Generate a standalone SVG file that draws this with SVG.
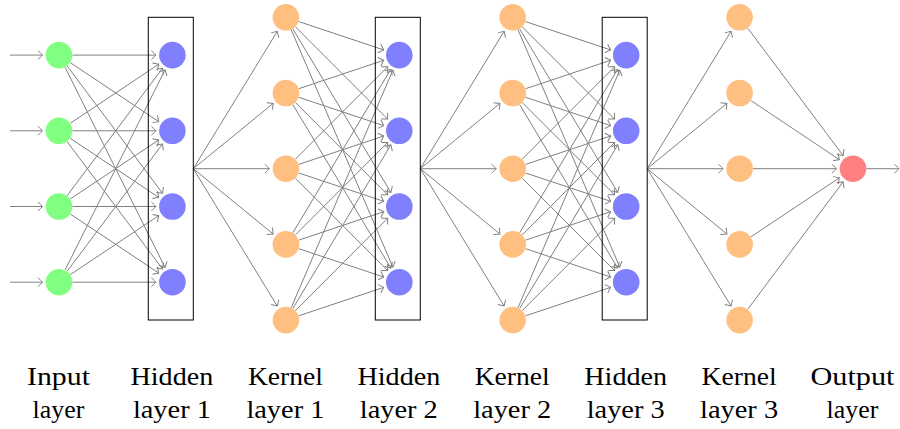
<svg xmlns="http://www.w3.org/2000/svg" width="900" height="429" viewBox="0 0 900 429">
<style>
.e{stroke:#808080;stroke-width:1;fill:none;marker-end:url(#ar)}
.in{fill:#80FF80}
.hd{fill:#8080FF}
.kn{fill:#FFBF80}
.out{fill:#FF8080}
.box{fill:none;stroke:#000;stroke-width:1}
</style>
<defs>
<marker id="ar" markerUnits="userSpaceOnUse" markerWidth="12" markerHeight="12" viewBox="-6 -6 12 12" refX="0" refY="0" orient="auto" overflow="visible">
<path d="M-4.5,-4.5 Q-1.2,-1.2 0,0 Q-1.2,1.2 -4.5,4.5" fill="none" stroke="#808080" stroke-width="1"/>
</marker>
</defs>
<g id="connectors">
<line class="e" x1="10" y1="55.1" x2="42.5" y2="55.1"/>
<line class="e" x1="10" y1="130.8" x2="42.5" y2="130.8"/>
<line class="e" x1="10" y1="206.5" x2="42.5" y2="206.5"/>
<line class="e" x1="10" y1="282.2" x2="42.5" y2="282.2"/>
<line class="e" x1="72.5" y1="55.1" x2="155.9" y2="55.1"/>
<line class="e" x1="70.23" y1="62.6" x2="158.68" y2="121.64"/>
<line class="e" x1="67.09" y1="65.91" x2="162.51" y2="193.29"/>
<line class="e" x1="65.03" y1="67.18" x2="165.03" y2="267.44"/>
<line class="e" x1="70.23" y1="123.3" x2="158.68" y2="64.26"/>
<line class="e" x1="72.5" y1="130.8" x2="155.9" y2="130.8"/>
<line class="e" x1="70.23" y1="138.3" x2="158.68" y2="197.34"/>
<line class="e" x1="67.09" y1="141.61" x2="162.51" y2="268.99"/>
<line class="e" x1="67.09" y1="195.69" x2="162.51" y2="68.31"/>
<line class="e" x1="70.23" y1="199" x2="158.68" y2="139.96"/>
<line class="e" x1="72.5" y1="206.5" x2="155.9" y2="206.5"/>
<line class="e" x1="70.23" y1="214" x2="158.68" y2="273.04"/>
<line class="e" x1="65.03" y1="270.12" x2="165.03" y2="69.86"/>
<line class="e" x1="67.09" y1="271.39" x2="162.51" y2="144.01"/>
<line class="e" x1="70.23" y1="274.7" x2="158.68" y2="215.66"/>
<line class="e" x1="72.5" y1="282.2" x2="155.9" y2="282.2"/>
<line class="e" x1="193.3" y1="168.7" x2="277.29" y2="31.38"/>
<line class="e" x1="193.3" y1="168.7" x2="273.13" y2="103.44"/>
<line class="e" x1="193.3" y1="168.7" x2="269.4" y2="168.7"/>
<line class="e" x1="193.3" y1="168.7" x2="273.13" y2="233.96"/>
<line class="e" x1="193.3" y1="168.7" x2="277.29" y2="306.02"/>
<line class="e" x1="298.71" y1="21.57" x2="383.65" y2="49.88"/>
<line class="e" x1="295.44" y1="26.85" x2="387.64" y2="119.12"/>
<line class="e" x1="292.84" y1="28.88" x2="390.82" y2="192.35"/>
<line class="e" x1="291.21" y1="29.71" x2="392.81" y2="267.03"/>
<line class="e" x1="298.71" y1="88.73" x2="383.65" y2="60.32"/>
<line class="e" x1="298.71" y1="97.27" x2="383.65" y2="125.58"/>
<line class="e" x1="295.44" y1="102.55" x2="387.64" y2="194.82"/>
<line class="e" x1="292.84" y1="104.58" x2="390.82" y2="268.05"/>
<line class="e" x1="295.44" y1="159.15" x2="387.64" y2="66.78"/>
<line class="e" x1="298.71" y1="164.43" x2="383.65" y2="136.02"/>
<line class="e" x1="298.71" y1="172.97" x2="383.65" y2="201.28"/>
<line class="e" x1="295.44" y1="178.25" x2="387.64" y2="270.52"/>
<line class="e" x1="292.84" y1="232.82" x2="390.82" y2="69.25"/>
<line class="e" x1="295.44" y1="234.85" x2="387.64" y2="142.48"/>
<line class="e" x1="298.71" y1="240.13" x2="383.65" y2="211.72"/>
<line class="e" x1="298.71" y1="248.67" x2="383.65" y2="276.98"/>
<line class="e" x1="291.21" y1="307.69" x2="392.81" y2="70.27"/>
<line class="e" x1="292.84" y1="308.52" x2="390.82" y2="144.95"/>
<line class="e" x1="295.44" y1="310.55" x2="387.64" y2="218.18"/>
<line class="e" x1="298.71" y1="315.83" x2="383.65" y2="287.42"/>
<line class="e" x1="420.3" y1="168.7" x2="504.09" y2="31.38"/>
<line class="e" x1="420.3" y1="168.7" x2="499.93" y2="103.44"/>
<line class="e" x1="420.3" y1="168.7" x2="496.2" y2="168.7"/>
<line class="e" x1="420.3" y1="168.7" x2="499.93" y2="233.96"/>
<line class="e" x1="420.3" y1="168.7" x2="504.09" y2="306.02"/>
<line class="e" x1="525.51" y1="21.57" x2="610.55" y2="49.88"/>
<line class="e" x1="522.24" y1="26.85" x2="614.54" y2="119.12"/>
<line class="e" x1="519.64" y1="28.88" x2="617.72" y2="192.35"/>
<line class="e" x1="518.01" y1="29.71" x2="619.71" y2="267.03"/>
<line class="e" x1="525.51" y1="88.73" x2="610.55" y2="60.32"/>
<line class="e" x1="525.51" y1="97.27" x2="610.55" y2="125.58"/>
<line class="e" x1="522.24" y1="102.55" x2="614.54" y2="194.82"/>
<line class="e" x1="519.64" y1="104.58" x2="617.72" y2="268.05"/>
<line class="e" x1="522.24" y1="159.15" x2="614.54" y2="66.78"/>
<line class="e" x1="525.51" y1="164.43" x2="610.55" y2="136.02"/>
<line class="e" x1="525.51" y1="172.97" x2="610.55" y2="201.28"/>
<line class="e" x1="522.24" y1="178.25" x2="614.54" y2="270.52"/>
<line class="e" x1="519.64" y1="232.82" x2="617.72" y2="69.25"/>
<line class="e" x1="522.24" y1="234.85" x2="614.54" y2="142.48"/>
<line class="e" x1="525.51" y1="240.13" x2="610.55" y2="211.72"/>
<line class="e" x1="525.51" y1="248.67" x2="610.55" y2="276.98"/>
<line class="e" x1="518.01" y1="307.69" x2="619.71" y2="70.27"/>
<line class="e" x1="519.64" y1="308.52" x2="617.72" y2="144.95"/>
<line class="e" x1="522.24" y1="310.55" x2="614.54" y2="218.18"/>
<line class="e" x1="525.51" y1="315.83" x2="610.55" y2="287.42"/>
<line class="e" x1="647.2" y1="168.7" x2="730.99" y2="31.38"/>
<line class="e" x1="647.2" y1="168.7" x2="726.83" y2="103.44"/>
<line class="e" x1="647.2" y1="168.7" x2="723.1" y2="168.7"/>
<line class="e" x1="647.2" y1="168.7" x2="726.83" y2="233.96"/>
<line class="e" x1="647.2" y1="168.7" x2="730.99" y2="306.02"/>
<line class="e" x1="747.69" y1="28.11" x2="843.11" y2="155.49"/>
<line class="e" x1="750.83" y1="100.5" x2="839.28" y2="159.54"/>
<line class="e" x1="753.1" y1="168.7" x2="836.5" y2="168.7"/>
<line class="e" x1="750.83" y1="236.9" x2="839.28" y2="177.86"/>
<line class="e" x1="747.69" y1="309.29" x2="843.11" y2="181.91"/>
<line class="e" x1="866.5" y1="168.7" x2="899" y2="168.7"/>
</g>
<g id="input-layer">
<g id="in1"><circle class="in" cx="59" cy="55.1" r="13.3"/></g>
<g id="in2"><circle class="in" cx="59" cy="130.8" r="13.3"/></g>
<g id="in3"><circle class="in" cx="59" cy="206.5" r="13.3"/></g>
<g id="in4"><circle class="in" cx="59" cy="282.2" r="13.3"/></g>
</g>
<g id="hidden-layer-1">
<rect class="box" x="148.3" y="17.3" width="45" height="302.7"/>
<g id="h1n1"><circle class="hd" cx="172.4" cy="55.1" r="13.3"/></g>
<g id="h1n2"><circle class="hd" cx="172.4" cy="130.8" r="13.3"/></g>
<g id="h1n3"><circle class="hd" cx="172.4" cy="206.5" r="13.3"/></g>
<g id="h1n4"><circle class="hd" cx="172.4" cy="282.2" r="13.3"/></g>
</g>
<g id="kernel-layer-1">
<g id="k1n1"><circle class="kn" cx="285.9" cy="17.3" r="13.3"/></g>
<g id="k1n2"><circle class="kn" cx="285.9" cy="93" r="13.3"/></g>
<g id="k1n3"><circle class="kn" cx="285.9" cy="168.7" r="13.3"/></g>
<g id="k1n4"><circle class="kn" cx="285.9" cy="244.4" r="13.3"/></g>
<g id="k1n5"><circle class="kn" cx="285.9" cy="320.1" r="13.3"/></g>
</g>
<g id="hidden-layer-2">
<rect class="box" x="375.3" y="17.3" width="45" height="302.7"/>
<g id="h2n1"><circle class="hd" cx="399.3" cy="55.1" r="13.3"/></g>
<g id="h2n2"><circle class="hd" cx="399.3" cy="130.8" r="13.3"/></g>
<g id="h2n3"><circle class="hd" cx="399.3" cy="206.5" r="13.3"/></g>
<g id="h2n4"><circle class="hd" cx="399.3" cy="282.2" r="13.3"/></g>
</g>
<g id="kernel-layer-2">
<g id="k2n1"><circle class="kn" cx="512.7" cy="17.3" r="13.3"/></g>
<g id="k2n2"><circle class="kn" cx="512.7" cy="93" r="13.3"/></g>
<g id="k2n3"><circle class="kn" cx="512.7" cy="168.7" r="13.3"/></g>
<g id="k2n4"><circle class="kn" cx="512.7" cy="244.4" r="13.3"/></g>
<g id="k2n5"><circle class="kn" cx="512.7" cy="320.1" r="13.3"/></g>
</g>
<g id="hidden-layer-3">
<rect class="box" x="602.2" y="17.3" width="45" height="302.7"/>
<g id="h3n1"><circle class="hd" cx="626.2" cy="55.1" r="13.3"/></g>
<g id="h3n2"><circle class="hd" cx="626.2" cy="130.8" r="13.3"/></g>
<g id="h3n3"><circle class="hd" cx="626.2" cy="206.5" r="13.3"/></g>
<g id="h3n4"><circle class="hd" cx="626.2" cy="282.2" r="13.3"/></g>
</g>
<g id="kernel-layer-3">
<g id="k3n1"><circle class="kn" cx="739.6" cy="17.3" r="13.3"/></g>
<g id="k3n2"><circle class="kn" cx="739.6" cy="93" r="13.3"/></g>
<g id="k3n3"><circle class="kn" cx="739.6" cy="168.7" r="13.3"/></g>
<g id="k3n4"><circle class="kn" cx="739.6" cy="244.4" r="13.3"/></g>
<g id="k3n5"><circle class="kn" cx="739.6" cy="320.1" r="13.3"/></g>
</g>
<g id="output-layer">
<g id="out1"><circle class="out" cx="853" cy="168.7" r="13.3"/></g>
</g>
<g id="labels" font-family="Liberation Serif, Times New Roman, serif" font-size="25.5" fill="#000" lengthAdjust="spacingAndGlyphs">
<text x="27" y="384.5" textLength="63" lengthAdjust="spacingAndGlyphs">Input</text>
<text x="32.6" y="418" textLength="51.7" lengthAdjust="spacingAndGlyphs">layer</text>
<text x="130.5" y="384.5" textLength="82.7" lengthAdjust="spacingAndGlyphs">Hidden</text>
<text x="132.9" y="418" textLength="78" lengthAdjust="spacingAndGlyphs">layer 1</text>
<text x="247.9" y="384.5" textLength="75" lengthAdjust="spacingAndGlyphs">Kernel</text>
<text x="246.4" y="418" textLength="78" lengthAdjust="spacingAndGlyphs">layer 1</text>
<text x="357.5" y="384.5" textLength="82.7" lengthAdjust="spacingAndGlyphs">Hidden</text>
<text x="359.8" y="418" textLength="78" lengthAdjust="spacingAndGlyphs">layer 2</text>
<text x="474.7" y="384.5" textLength="75" lengthAdjust="spacingAndGlyphs">Kernel</text>
<text x="473.2" y="418" textLength="78" lengthAdjust="spacingAndGlyphs">layer 2</text>
<text x="584.3" y="384.5" textLength="82.7" lengthAdjust="spacingAndGlyphs">Hidden</text>
<text x="586.7" y="418" textLength="78" lengthAdjust="spacingAndGlyphs">layer 3</text>
<text x="701.6" y="384.5" textLength="75" lengthAdjust="spacingAndGlyphs">Kernel</text>
<text x="700.1" y="418" textLength="78" lengthAdjust="spacingAndGlyphs">layer 3</text>
<text x="810.5" y="384.5" textLength="84" lengthAdjust="spacingAndGlyphs">Output</text>
<text x="826.6" y="418" textLength="51.7" lengthAdjust="spacingAndGlyphs">layer</text>
</g>
</svg>
